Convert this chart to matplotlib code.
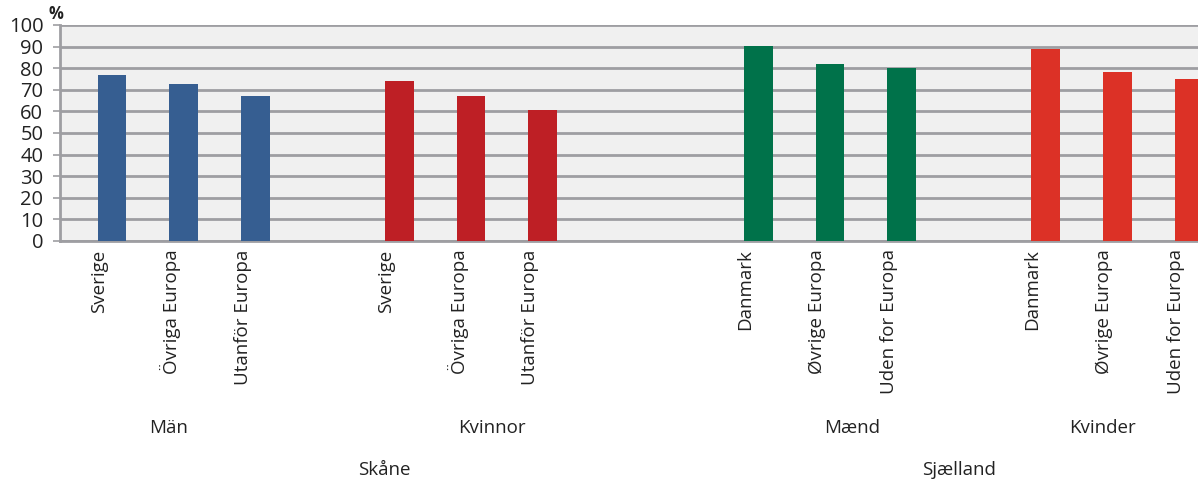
import matplotlib
matplotlib.use("Agg")
import matplotlib.pyplot as plt
import matplotlib.transforms as mtransforms

# data
GROUPS = ["Män", "Kvinnor", "Mænd", "Kvinder"]
REGIONS = ["Skåne", "Sjælland"]
ORIGINS_SE = ["Sverige", "Övriga Europa", "Utanför Europa"]
ORIGINS_DK = ["Danmark", "Øvrige Europa", "Uden for Europa"]
MAN_SE = [76.7, 72.8, 66.9]
KVINNOR_SE = [74.0, 67.1, 60.6]
MAEND_DK = [90.3, 81.9, 80.1]
KVINDER_DK = [88.9, 78.2, 75.0]

COLORS = ["#365E91", "#BE1F25", "#00724A", "#DC3126"]
GROUP_START = [0, 4, 9, 13]
GROUP_LABEL_X = [0.79, 5.29, 10.31, 13.8]
REGION_LABEL_X = [3.79, 11.8]

plt.rcParams["font.family"] = ["Open Sans", "DejaVu Sans"]
TXT = "#222222"
FS = 13.5

W, H = 1198, 479
fig = plt.figure(figsize=(W / 100, H / 100), dpi=100)
ax = fig.add_axes([60 / W, 1 - 241 / H, 1 - 60 / W, 216 / H])
ax.set_facecolor("#F0F0F0")

series = [MAN_SE, KVINNOR_SE, MAEND_DK, KVINDER_DK]
labels = [ORIGINS_SE, ORIGINS_SE, ORIGINS_DK, ORIGINS_DK]
ticks, ticklabels = [], []
for start, vals, labs, color in zip(GROUP_START, series, labels, COLORS):
    xs = [start + i for i in range(len(vals))]
    ax.bar(xs, vals, width=0.40, color=color, zorder=3)
    ticks += xs
    ticklabels += labs

ax.set_xlim(-0.724, 15.125)
ax.set_ylim(0, 100)
ax.set_yticks(range(0, 101, 10))
ax.yaxis.grid(True, color="#9E9EA2", linewidth=2, zorder=1)
ax.set_axisbelow(True)
ax.tick_params(axis="y", length=5, width=1.2, color="#9E9EA2", labelsize=14.5,
               labelcolor=TXT, pad=7)

ax.set_xticks(ticks)
ax.set_xticklabels(ticklabels, rotation=90, va="top", ha="center", fontsize=FS,
                   color=TXT)
ax.tick_params(axis="x", length=0, pad=6)
shift = mtransforms.ScaledTranslation(-13 / 100, 0, fig.dpi_scale_trans)
for lab in ax.get_xticklabels():
    lab.set_transform(lab.get_transform() + shift)

for spine in ["top", "right"]:
    ax.spines[spine].set_visible(False)
for spine in ["left", "bottom"]:
    ax.spines[spine].set_color("#9E9EA2")
    ax.spines[spine].set_linewidth(2)

ax.text(-0.0105, 1.01, "%", transform=ax.transAxes, ha="left", va="bottom",
        fontsize=12, fontweight="bold", color=TXT)

trans = mtransforms.blended_transform_factory(ax.transData, fig.transFigure)
for x, name in zip(GROUP_LABEL_X, GROUPS):
    ax.text(x, 1 - 428 / H, name, transform=trans, ha="center", va="center",
            fontsize=FS, color=TXT)
for x, name in zip(REGION_LABEL_X, REGIONS):
    ax.text(x, 1 - 470 / H, name, transform=trans, ha="center", va="center",
            fontsize=FS, color=TXT)

fig.savefig("out.png", dpi=100)
